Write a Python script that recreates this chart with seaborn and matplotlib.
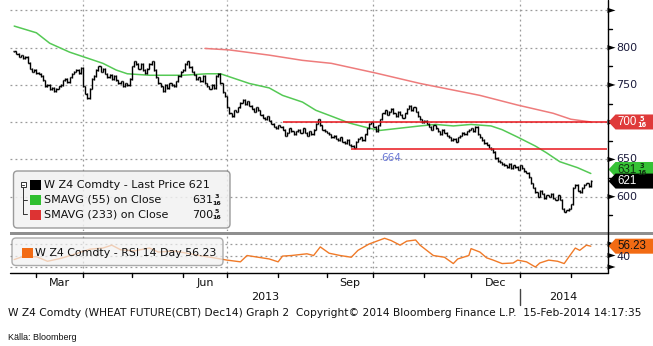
import numpy as np
import pandas as pd
import matplotlib
matplotlib.use("Agg")
import matplotlib.pyplot as plt
import seaborn as sns
from matplotlib.patches import FancyBboxPatch, Polygon, Rectangle
from matplotlib.lines import Line2D
from matplotlib.transforms import IdentityTransform

sns.set_theme(style="white")
plt.rcParams["font.family"] = ["DejaVu Sans"]

# ---------------- data ----------------
first_day, last_day = "2013-02-15", "2014-02-14"

# daily closes, W Z4 (CBOT wheat, Dec 2014)
close = [
    795,
    792, 788, 790, 786, 788,   780, 772, 768, 770, 766,   765, 762, 756, 748, 750,
    744, 746, 742, 745, 748,   750, 756, 758, 754, 760,   765, 768, 770, 766, 773,
    748, 738, 732, 745, 758,   762, 770, 775, 768, 772,   765, 760, 764, 758, 762,
    756, 752, 755, 748, 752,   750, 758, 775, 782, 778,   772, 778, 770, 766, 772,
    778, 782, 770, 760, 752,   748, 742, 750, 746, 752,   750, 748, 755, 762, 768,
    770, 778, 782, 774, 768,   764, 758, 760, 755, 762,   752, 748, 745, 750, 746,
    762, 765, 752, 740, 735,   720, 712, 708, 716, 714,   720, 726, 730, 724, 728,
    722, 718, 714, 720, 716,   710, 706, 704, 708, 702,   698, 694, 692, 696, 694,
    690, 682, 686, 692, 688,   684, 688, 690, 686, 692,   686, 682, 688, 684, 690,
    698, 704, 696, 690, 688,   686, 684, 680, 682, 678,   676, 680, 674, 672, 676,
    670, 668, 666, 674, 678,   680, 676, 684, 692, 698,   700, 694, 688, 696, 704,
    712, 716, 710, 714, 718,   712, 708, 714, 710, 706,   712, 718, 722, 716, 720,
    714, 708, 704, 700, 702,   698, 694, 690, 696, 692,   688, 684, 690, 686, 682,
    680, 676, 678, 674, 680,   682, 686, 684, 688, 690,   692, 688, 694, 684, 680,
    676, 672, 670, 666, 664,   660, 652, 648, 646, 644,   642, 640, 644, 638, 642,
    640, 636, 642, 638, 634,   632, 626, 618, 612, 606,   600, 608, 604, 598, 602,
    600, 604, 598, 596, 602,   596, 584, 580, 582, 584,   590, 612, 616, 608, 606,
    612, 616, 618, 614, 621,
]

ma55_dates = ["2013-02-15", "2013-03-01", "2013-03-11", "2013-03-22", "2013-04-01",
              "2013-04-12", "2013-04-22", "2013-04-29", "2013-05-13", "2013-06-03",
              "2013-06-18", "2013-06-26", "2013-07-04", "2013-07-15", "2013-07-26",
              "2013-08-05", "2013-08-16", "2013-08-26", "2013-09-05", "2013-09-16",
              "2013-09-27", "2013-10-04", "2013-10-17", "2013-10-30", "2013-11-08",
              "2013-11-20", "2013-12-02", "2013-12-13", "2013-12-20", "2013-12-31",
              "2014-01-10", "2014-01-17", "2014-01-27", "2014-02-06", "2014-02-14"]
ma55 = [829, 820, 806, 794, 788, 779, 770, 765, 763, 763, 765, 765, 759, 752, 746,
        736, 727, 716, 707, 699, 692, 689, 692, 695, 697, 695, 697, 695, 690, 680,
        668, 659, 647, 639, 631.1875]

ma233_dates = ["2013-06-17", "2013-07-02", "2013-07-26", "2013-08-16", "2013-09-04",
               "2013-10-02", "2013-10-30", "2013-12-06", "2013-12-31", "2014-01-22",
               "2014-02-03", "2014-02-14"]
ma233 = [799, 797, 790, 783, 779, 766, 752, 736, 723, 712, 704, 700.3125]

rsi_dates = ["2013-02-15", "2013-02-20", "2013-03-01", "2013-03-08", "2013-03-18",
             "2013-03-26", "2013-04-04", "2013-04-12", "2013-04-18", "2013-04-24",
             "2013-05-02", "2013-05-13", "2013-05-17", "2013-05-28", "2013-06-05",
             "2013-06-14", "2013-06-21", "2013-07-01", "2013-07-09", "2013-07-12",
             "2013-07-19", "2013-07-26", "2013-08-01", "2013-08-05", "2013-08-09",
             "2013-08-20", "2013-08-23", "2013-08-28", "2013-09-03", "2013-09-10",
             "2013-09-17", "2013-09-20", "2013-09-27", "2013-10-08", "2013-10-11",
             "2013-10-17", "2013-10-22", "2013-10-28", "2013-10-30", "2013-11-07",
             "2013-11-14", "2013-11-20", "2013-11-22", "2013-11-29", "2013-12-02",
             "2013-12-06", "2013-12-11", "2013-12-16", "2013-12-20", "2013-12-27",
             "2013-12-31", "2014-01-06", "2014-01-10", "2014-01-14", "2014-01-20",
             "2014-01-24", "2014-01-29", "2014-01-31", "2014-02-05", "2014-02-07",
             "2014-02-12", "2014-02-14"]
rsi = [33, 37, 38, 30, 35, 42, 51, 53, 58, 50, 48, 53, 46, 48, 44, 39, 36, 32, 29, 40,
       37, 34, 29, 39, 40, 43, 40, 55, 44, 40, 37, 49, 60, 70, 66, 58, 65, 67, 58, 40,
       37, 26, 34, 40, 52, 46, 36, 32, 26, 27, 32, 29, 20, 27, 32, 30, 26, 37, 53, 49,
       58, 56.23]

levels = [700, 664]
level_starts = ["2013-08-05", "2013-09-17"]

last_price = 621
ma55_last = ("631", "3", "16")
ma233_last = ("700", "5", "16")
rsi_last = 56.23

price_major = [600, 650, 700, 750, 800, 850]
price_labels = ["600", "650", "", "750", "800", ""]
price_minor = [575, 625, 675, 725, 775, 825]
rsi_major = [20, 40, 60]
quarter_label_months = [("Mar", "2013-03"), ("Jun", "2013-06"), ("Sep", "2013-09"), ("Dec", "2013-12")]

# ---------------- layout helpers ----------------
W, H, DPI = 653, 346, 100
BLACK, GRID = "#000000", "#9a9a9a"
C_MA55, C_MA233, C_LEVEL = "#55c955", "#ee7c7c", "#e8151b"
C_RSI = "#f07a28"
T = IdentityTransform()

days = pd.bdate_range(first_day, last_day)
idx = np.arange(len(days))
close = np.array(close, dtype=float)


def to_idx(ds):
    return days.searchsorted(pd.to_datetime(ds))


fig = plt.figure(figsize=(W / DPI, H / DPI), dpi=DPI)
fig.patch.set_facecolor("white")
ax = fig.add_axes([10 / W, (H - 231) / H, 597 / W, 231 / H])
ax2 = fig.add_axes([10 / W, (H - 272.7) / H, 597 / W, (272.7 - 235) / H])
XL = (-1.9, 267.3)
for a in (ax, ax2):
    a.set_xlim(*XL)
    a.set_axis_off()
ax.set_ylim(554, 864)
ax2.set_ylim(10.1, 75.7)


def py(a, v):
    return H - a.transData.transform((0, v))[1]


def px(a, i):
    return a.transData.transform((i, 0))[0]


def ptxt(x, y, s, **kw):
    return fig.text(x, H - y, s, transform=T, **kw)


def pline(xs, ys, **kw):
    fig.add_artist(Line2D(xs, [H - y for y in ys], transform=T, **kw))


def ppoly(pts, **kw):
    fig.add_artist(Polygon([(x, H - y) for x, y in pts], closed=True, transform=T, **kw))


def frac(x, y, num, den, color, size=5.0):
    ptxt(x, y - 3.0, num, ha="center", va="center", fontsize=size, color=color, fontweight="bold")
    ptxt(x, y + 3.4, den, ha="center", va="center", fontsize=size, color=color, fontweight="bold")


dot = dict(color=GRID, lw=0.9, ls=(0, (1.5, 2.5)), zorder=0)

# ---------------- grid ----------------
for v in price_major:
    ax.axhline(v, **dot)
for v in rsi_major:
    ax2.axhline(v, **dot)
quarter_starts = to_idx(["2013-04-01", "2013-07-01", "2013-10-01", "2014-01-01"])
for q in quarter_starts:
    ax.axvline(q, **dot)
    ax2.axvline(q, **dot)

# ---------------- price bars ----------------
opens = np.r_[close[0], close[:-1]]
ax.vlines(idx, np.minimum(opens, close) - 0.8, np.maximum(opens, close) + 0.8,
          color=BLACK, lw=1.0, zorder=3)
ax.hlines(opens, idx - 0.6, idx, color=BLACK, lw=1.0, zorder=3)
ax.hlines(close, idx, idx + 0.6, color=BLACK, lw=1.0, zorder=3)

# moving averages
sns.lineplot(x=to_idx(ma55_dates), y=ma55, ax=ax, color=C_MA55, lw=1.1, zorder=2, legend=False)
sns.lineplot(x=to_idx(ma233_dates), y=ma233, ax=ax, color=C_MA233, lw=1.1, zorder=2, legend=False)

# support / resistance levels
for lvl, start in zip(levels, level_starts):
    ax.hlines(lvl, to_idx(start), XL[1], color=C_LEVEL, lw=1.1, zorder=4)
ax.annotate("664", xy=(to_idx(level_starts[1]), levels[1]), xytext=(30, -9),
            textcoords="offset pixels", color="#6a78d4", fontsize=7.5, va="center", ha="left")

# RSI
sns.lineplot(x=to_idx(rsi_dates), y=rsi, ax=ax2, color=C_RSI, lw=1.0, zorder=2, legend=False)

# ---------------- frame pieces ----------------
pline([607.5, 607.5], [0, 272.7], color=BLACK, lw=1.0)
fig.add_artist(Rectangle((10, H - 235.2), 643, 3.7, transform=T, facecolor="#8f8f8f", edgecolor="none"))
pline([10, 607.5], [272.7, 272.7], color=BLACK, lw=1.0)


def tri(y):
    ppoly([(607.5, y - 2.6), (615.5, y), (607.5, y + 2.6)], facecolor=BLACK, edgecolor="none")


for v, lab in zip(price_major, price_labels):
    y = py(ax, v)
    tri(y)
    if lab:
        ptxt(616.5, y, lab, ha="left", va="center", fontsize=8, color="#1c1c3c")
for v in price_minor:
    y = py(ax, v)
    pline([607.5, 611.5], [y, y], color=BLACK, lw=1.0)
for v in rsi_major:
    tri(py(ax2, v))

# month ticks and labels
month_starts = pd.date_range("2013-03-01", "2014-02-01", freq="MS")
for m in month_starts:
    x = px(ax2, to_idx([m])[0])
    pline([x, x], [272.7, 276.5], color=BLACK, lw=1.0)
for name, ym in quarter_label_months:
    s = pd.Timestamp(ym + "-01")
    x0 = px(ax2, to_idx([s])[0])
    x1 = px(ax2, to_idx([s + pd.offsets.MonthBegin(1)])[0])
    ptxt((x0 + x1) / 2, 282.5, name, ha="center", va="center", fontsize=8, color="#111111")
xj = px(ax2, quarter_starts[-1])
ptxt((10 + xj) / 2, 297, "2013", ha="center", va="center", fontsize=8, color="#111111")
ptxt((xj + 607.5) / 2, 297, "2014", ha="center", va="center", fontsize=8, color="#111111")
pline([xj, xj], [289, 305], color="#444444", lw=1.0)


# value tags on the right axis
def tag(cy, fill, main, tcolor, fr=None):
    ppoly([(608.5, cy), (615.5, cy - 7.5), (653, cy - 7.5), (653, cy + 7.5), (615.5, cy + 7.5)],
          facecolor=fill, edgecolor="none")
    ptxt(617.0, cy + 0.3, main, ha="left", va="center", fontsize=8.3, color=tcolor,
         family=["Liberation Sans"])
    if fr:
        frac(641.5, cy, fr[0], fr[1], tcolor, size=4.8)


tag(py(ax, float(ma233_last[0]) + 5 / 16), "#df3a3a", ma233_last[0], "white", ma233_last[1:])
tag(py(ax, float(ma55_last[0]) + 3 / 16) - 4, "#36c236", ma55_last[0], "#103010", ma55_last[1:])
tag(py(ax, last_price), "#000000", str(last_price), "white")
ptxt(616.5, py(ax2, 40) + 1.5, "40", ha="left", va="center", fontsize=8, color="#1c1c3c")
tag(py(ax2, rsi_last), "#f26b14", f"{rsi_last:.2f}", "#111111")

# ---------------- legends ----------------
fig.add_artist(FancyBboxPatch((13.5, H - 228), 216.5, 57, boxstyle="round,pad=0,rounding_size=4",
                              transform=T, facecolor="#f1f1f1", edgecolor="#8a8a8a", lw=1.0, alpha=0.85))
rows = [(185, BLACK, "W Z4 Comdty - Last Price 621", None),
        (200, "#2fbf2f", "SMAVG (55) on Close", ma55_last),
        (214.5, "#dd3333", "SMAVG (233) on Close", ma233_last)]
for y, c, s, val in rows:
    fig.add_artist(Rectangle((30, H - y - 5), 10.5, 10, transform=T, facecolor=c, edgecolor="none"))
    ptxt(44, y, s, ha="left", va="center", fontsize=8.0, color="#111111")
    if val:
        ptxt(192, y, val[0], ha="left", va="center", fontsize=8.0, color="#111111")
        frac(217, y, val[1], val[2], "#111111", size=4.6)
# tree glyph
fig.add_artist(Rectangle((20.5, H - 187), 5, 5, transform=T, facecolor="white", edgecolor="#333333", lw=0.7))
pline([21.8, 24.3], [184.5, 184.5], color="#333333", lw=0.7)
pline([23, 23], [187, 214], color="#333333", lw=0.7)
pline([23, 27], [200, 200], color="#333333", lw=0.7)
pline([23, 27], [214, 214], color="#333333", lw=0.7)

fig.add_artist(FancyBboxPatch((12, H - 265.5), 211, 27.5, boxstyle="round,pad=0,rounding_size=4",
                              transform=T, facecolor="#f1f1f1", edgecolor="#8a8a8a", lw=1.0, alpha=0.7))
fig.add_artist(Rectangle((22, H - 258), 11, 10, transform=T, facecolor="#f26b14", edgecolor="none"))
ptxt(35, 253, f"W Z4 Comdty - RSI 14 Day {rsi_last:.2f}", ha="left", va="center",
     fontsize=7.9, color="#111111")

# ---------------- footer ----------------
ptxt(8, 313, "W Z4 Comdty (WHEAT FUTURE(CBT) Dec14) Graph 2  Copyright\u00a9 2014 Bloomberg Finance L.P.  "
     "15-Feb-2014 14:17:35", ha="left", va="center", fontsize=7.68, color="#111111")
ptxt(8, 337, "K\u00e4lla: Bloomberg", ha="left", va="center", fontsize=6.5, color="#111111",
     family=["Liberation Sans"])

fig.savefig("out.png", dpi=DPI, facecolor="white")
